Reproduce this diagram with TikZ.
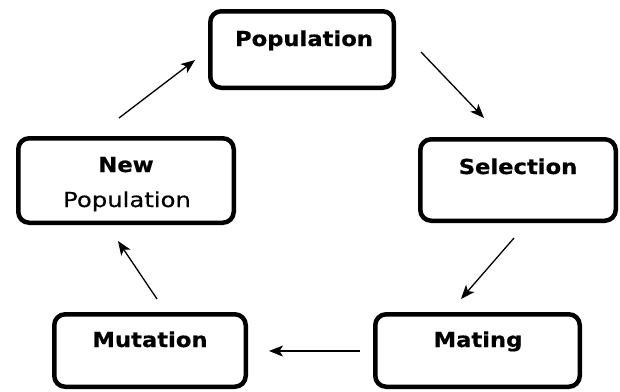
\documentclass[tikz,border=0pt]{standalone}
\usepackage{fontspec}
\newfontfamily\boxbf[FakeStretch=1.1,FakeBold=0.6]{DejaVu Sans Bold}
\newfontfamily\boxrm[FakeStretch=1.18,FakeBold=0.4]{DejaVu Sans}
\usetikzlibrary{arrows.meta}
\begin{document}
\begin{tikzpicture}[x=1pt,y=-1pt,
  stagebox/.style={draw=black, line width=4.5pt, rounded corners=11pt, fill=white, inner sep=0pt},
  lbl/.style={anchor=base, inner sep=0pt, font=\boxbf\fontsize{20.6}{24}\selectfont},
  lblrm/.style={anchor=base, inner sep=0pt, font=\boxrm\fontsize{20.6}{24}\selectfont},
  arr/.style={draw=black, line width=1.3pt, -{Stealth[length=14pt,width=11pt,inset=3.5pt]}}]
\useasboundingbox (0,0) rectangle (620,391);
\fill[white] (0,0) rectangle (620,391);
% boxes (centre line of the border)
\node[stagebox, minimum width=183.5pt, minimum height=76.5pt] (pop) at (302,49.5) {};
\node[stagebox, minimum width=215.5pt, minimum height=84.5pt] (newpop) at (126,180.5) {};
\node[stagebox, minimum width=195.5pt, minimum height=81.5pt] (sel) at (518,180) {};
\node[stagebox, minimum width=191.5pt, minimum height=72.5pt] (mut) at (150,350.5) {};
\node[stagebox, minimum width=204.5pt, minimum height=72.5pt] (mat) at (477.5,350.5) {};
% labels
\node[lbl] (popt) at (304,46) {Population};
\node[lbl] (newt) at (126,172) {New};
\node[lblrm] (newpopt) at (127,207) {Population};
\node[lbl] (selt) at (518,174) {Selection};
\node[lbl] (mutt) at (150,347) {Mutation};
\node[lbl] (matt) at (478,347) {Mating};
% arrow ends
\coordinate (a1s) at (119,118); \coordinate (a1e) at (195,60);
\coordinate (a2s) at (421,52);  \coordinate (a2e) at (484,118);
\coordinate (a3s) at (514,238); \coordinate (a3e) at (461,299);
\coordinate (a4s) at (360,351); \coordinate (a4e) at (269,351);
\coordinate (a5s) at (157,299); \coordinate (a5e) at (118,241);
\draw[arr] (a1s) -- (a1e);
\draw[arr] (a2s) -- (a2e);
\draw[arr] (a3s) -- (a3e);
\draw[arr] (a4s) -- (a4e);
\draw[arr] (a5s) -- (a5e);
\end{tikzpicture}
\end{document}
